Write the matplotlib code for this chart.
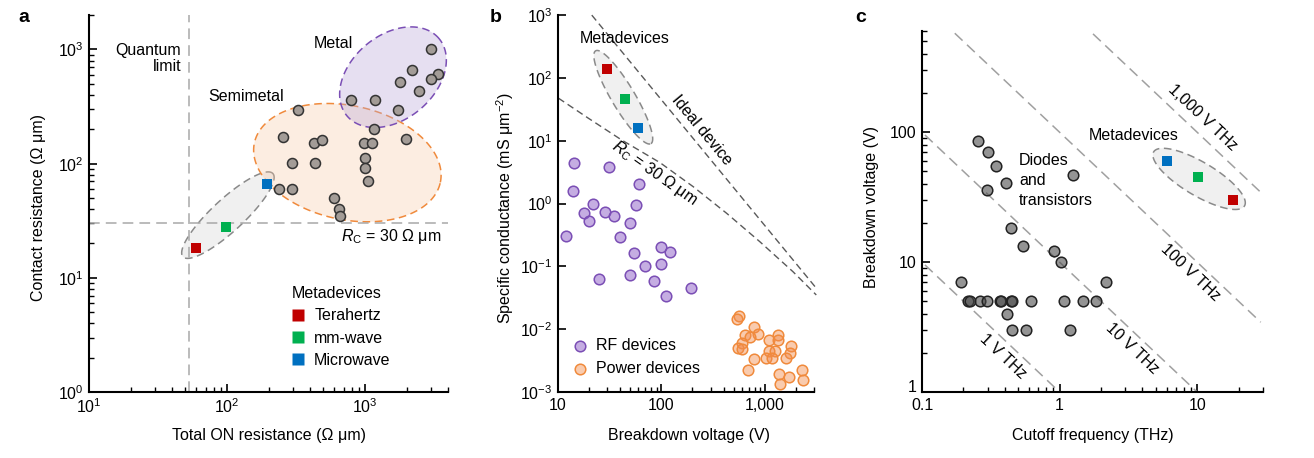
import numpy as np
import matplotlib
matplotlib.use("Agg")
import matplotlib.pyplot as plt
import matplotlib.transforms as mtransforms
from matplotlib.lines import Line2D
from matplotlib.ticker import NullLocator, NullFormatter

plt.rcParams['font.family'] = ['Liberation Sans', 'DejaVu Sans']
plt.rcParams['mathtext.fontset'] = 'custom'
plt.rcParams['mathtext.rm'] = 'Liberation Sans'
plt.rcParams['mathtext.it'] = 'Liberation Sans:italic'
plt.rcParams['mathtext.bf'] = 'Liberation Sans:bold'
FS = 11.5
plt.rcParams['font.size'] = FS

# ---------------- data ----------------
# panel a : total ON resistance vs contact resistance (Ohm um)
metal_ron = [2990, 2190, 3380, 2990, 1782, 2478, 796, 1188, 1734]
metal_rc = [1000, 655, 605, 553, 524, 437, 362, 362, 294]
semi_ron = [325, 1169, 256, 1982, 425, 485, 988, 1117, 297, 434, 995, 995,
            1045, 238, 297, 593, 648, 662]
semi_rc = [294, 201, 171, 166, 151, 160, 151, 151, 101, 101, 111, 91,
           70, 60, 60, 50, 40, 35]
meta_names = ['Terahertz', 'mm-wave', 'Microwave']
meta_colors = ['#c00000', '#00b050', '#0070c0']
meta_ron = [59.6, 98.4, 196]
meta_rc = [18.1, 28, 66]
quantum_limit = 53
rc_limit = 30

# panel b : breakdown voltage (V) vs specific conductance (mS um^-2)
rf_v = [14.3, 30.9, 14.1, 60.1, 21.9, 56.8, 17.9, 28.6, 19.9, 35, 50, 11.9,
        40, 98.9, 120, 54.7, 69.8, 99, 24.9, 50, 84, 193, 110]
rf_g = [4.37, 3.87, 1.58, 2.05, 1.0, 0.96, 0.70, 0.73, 0.53, 0.63, 0.49, 0.30,
        0.29, 0.205, 0.169, 0.161, 0.103, 0.111, 0.063, 0.072, 0.058, 0.046, 0.034]
pw_v = [565, 545, 789, 869, 646, 728, 1355, 1101, 1355, 600, 557, 608, 1783,
        1101, 1260, 1744, 1023, 1170, 789, 1618, 695, 2275, 1374, 1718, 2345, 1395]
pw_g = [0.0161, 0.0144, 0.0109, 0.0085, 0.0080, 0.00755, 0.0080, 0.00668,
        0.00668, 0.00606, 0.0051, 0.00486, 0.00536, 0.00452, 0.00452, 0.0042,
        0.00353, 0.00353, 0.00336, 0.00353, 0.00228, 0.00228, 0.00196, 0.00174,
        0.00158, 0.00136]
meta_v = [30, 44.8, 59.7]
meta_g = [138, 46.4, 16.0]
ideal_v = [21.2, 3155]
ideal_g = [1000, 0.045]
rcline_v = [10.07, 19.6, 41.2, 96.9, 203, 427, 895, 1875, 3155]
rcline_g = [47.7, 22.9, 10.3, 4.49, 1.86, 0.703, 0.248, 0.0825, 0.0351]

# panel c : cutoff frequency (THz) vs breakdown voltage (V)
dt_f = [0.254, 0.301, 0.344, 0.411, 0.297, 1.26, 0.443, 0.541, 0.904, 1.016,
        0.191, 2.19, 0.217, 0.224, 0.264, 0.296, 0.366, 0.378, 0.443, 0.452,
        0.622, 1.077, 1.486, 1.84, 0.418, 0.452, 0.569, 1.20]
dt_v = [85.8, 70.2, 55.4, 40.5, 36.2, 46.7, 18.2, 13.2, 12.2, 10.1,
        7.0, 7.0, 5.0, 5.0, 5.0, 5.0, 5.0, 5.0, 5.0, 5.0,
        5.0, 5.0, 5.0, 5.0, 4.0, 3.0, 3.0, 3.0]
meta_f = [18.2, 10.1, 6.05]
meta_vb = [30.2, 45.6, 60.2]
jfom_values = [1, 10, 100, 1000]
jfom_labels = ['1 V THz', '10 V THz', '100 V THz', '1,000 V THz']
jfom_fmin = [0.105, 0.105, 0.173, 1.75]
jfom_fmax = [1.0, 10.0, 29, 29]

# ---------------- helpers ----------------
DASH = (0, (5, 3))


def style_axes(ax):
    for s in ['top', 'right']:
        ax.spines[s].set_visible(False)
    for s in ['left', 'bottom']:
        ax.spines[s].set_linewidth(1.5)
    ax.tick_params(which='major', direction='in', length=6, width=1.2, labelsize=FS, pad=4)
    ax.tick_params(which='minor', direction='in', length=3.5, width=1.0)
    ax.xaxis.set_minor_formatter(NullFormatter())
    ax.yaxis.set_minor_formatter(NullFormatter())


def draw_ellipse(ax, end1, end2, half_minor, face, edge, zorder=1):
    # ellipse defined in screen pixels from the two ends of its long axis
    p = ax.transData.transform([end1, end2])
    c = p.mean(axis=0)
    d = (p[1] - p[0]) / 2
    u = d / np.hypot(*d)
    v = np.array([-u[1], u[0]]) * half_minor
    t = np.linspace(0, 2 * np.pi, 300)
    pts = c + np.outer(np.cos(t), d) + np.outer(np.sin(t), v)
    xy = ax.transData.inverted().transform(pts)
    ax.fill(xy[:, 0], xy[:, 1], facecolor=face, edgecolor=edge, ls=DASH,
            lw=1.1, zorder=zorder)


fig = plt.figure(figsize=(13.14, 4.58), dpi=100)

# ================= panel a =================
ax = fig.add_axes([0.0677, 0.144, 0.2733, 0.823])
ax.set_xscale('log')
ax.set_yscale('log')
ax.set_xlim(10, 4000)
ax.set_ylim(1, 2000)
style_axes(ax)
ax.set_xticks([10, 100, 1000], ['$10^{1}$', '$10^{2}$', '$10^{3}$'])
ax.set_yticks([1, 10, 100, 1000], ['$10^{0}$', '$10^{1}$', '$10^{2}$', '$10^{3}$'])

draw_ellipse(ax, (48, 15.3), (215, 82), 16, '#f0f0f0', '#8a8a8a')
draw_ellipse(ax, (158, 152), (3516, 68.6), 57, (0.97, 0.77, 0.62, 0.3), '#f08a3c')
draw_ellipse(ax, (741, 262), (3436, 1248), 42, (0.72, 0.65, 0.85, 0.35), '#7b4fb5')

ax.axvline(quantum_limit, color='#a8a8a8', lw=1.1, ls=(0, (7, 4)), zorder=2)
ax.axhline(rc_limit, color='#a8a8a8', lw=1.1, ls=(0, (7, 4)), zorder=2)

ax.scatter(metal_ron + semi_ron, metal_rc + semi_rc, s=52, facecolor='#a39c97',
           edgecolor='#333333', linewidth=1.1, zorder=3)
for x, y, c in zip(meta_ron, meta_rc, meta_colors):
    ax.scatter(x, y, s=62, marker='s', color=c, linewidth=0, zorder=4)

ax.text(46.7, 1137, 'Quantum\nlimit', ha='right', va='top', multialignment='right',
        linespacing=1.05)
ax.text(586, 1137, 'Metal', ha='center', va='center')
ax.text(138, 387, 'Semimetal', ha='center', va='center')
ax.text(3570, 22.9, r'$R_{\mathrm{C}}$ = 30 Ω μm', ha='right', va='center')

handles = [Line2D([], [], marker='s', ls='none', markersize=8, mfc=c, mec='none')
           for c in meta_colors]
ax.legend(handles, meta_names, title='Metadevices', loc='upper left',
          bbox_to_anchor=(0.565, 0.281), frameon=False, borderpad=0,
          borderaxespad=0, handlelength=0.8, handletextpad=0.6,
          labelspacing=0.45, alignment='left', fontsize=FS, title_fontsize=FS)

ax.set_xlabel('Total ON resistance (Ω μm)')
ax.set_ylabel('Contact resistance (Ω μm)')
ax.xaxis.set_label_coords(0.5, -0.095)
ax.yaxis.set_label_coords(-0.12, 0.49)

# ================= panel b =================
ax = fig.add_axes([0.4247, 0.144, 0.1948, 0.823])
ax.set_xscale('log')
ax.set_yscale('log')
ax.set_xlim(10, 3000)
ax.set_ylim(1e-3, 1e3)
style_axes(ax)
ax.yaxis.set_minor_locator(NullLocator())
ax.set_xticks([10, 100, 1000], ['10', '100', '1,000'])
ax.set_yticks([1e-3, 1e-2, 1e-1, 1, 10, 100, 1000],
              ['$10^{-3}$', '$10^{-2}$', '$10^{-1}$', '$10^{0}$', '$10^{1}$',
               '$10^{2}$', '$10^{3}$'])

ax.plot(ideal_v, ideal_g, color='#5a5a5a', lw=1.0, ls=DASH, zorder=2, clip_on=False)
ax.plot(rcline_v, rcline_g, color='#5a5a5a', lw=1.0, ls=DASH, zorder=2, clip_on=False)
draw_ellipse(ax, (23.1, 270), (79.2, 9.0), 11.7, '#f0f0f0', '#8a8a8a')

rf = ax.scatter(rf_v, rf_g, s=58, facecolor=(0.55, 0.36, 0.78, 0.5),
                edgecolor='#7b4fb5', linewidth=1.1, zorder=3)
pw = ax.scatter(pw_v, pw_g, s=58, facecolor=(0.95, 0.55, 0.3, 0.45),
                edgecolor='#f08a3c', linewidth=1.1, zorder=3)
for x, y, c in zip(meta_v, meta_g, meta_colors):
    ax.scatter(x, y, s=62, marker='s', color=c, linewidth=0, zorder=4)

ax.text(44.4, 420, 'Metadevices', ha='center', va='center')
ax.text(248, 14.9, 'Ideal device', ha='center', va='center', rotation=-50.5,
        rotation_mode='anchor')
ax.text(86.5, 3.03, r'$R_{\mathrm{C}}$ = 30 Ω μm', ha='center', va='center',
        rotation=-35, rotation_mode='anchor')

ax.legend([rf, pw], ['RF devices', 'Power devices'], loc='lower left',
          bbox_to_anchor=(0.06, 0.042), frameon=False, borderpad=0, borderaxespad=0,
          handlelength=0.8, handletextpad=0.6, labelspacing=0.5, fontsize=FS)

ax.set_xlabel('Breakdown voltage (V)')
ax.set_ylabel('Specific conductance (mS μm$^{-2}$)')
ax.xaxis.set_label_coords(0.51, -0.095)
ax.yaxis.set_label_coords(-0.164, 0.488)

# ================= panel c =================
ax = fig.add_axes([0.7017, 0.144, 0.2593, 0.788])
ax.set_xscale('log')
ax.set_yscale('log')
ax.set_xlim(0.1, 30)
ax.set_ylim(1, 600)
style_axes(ax)
ax.set_xticks([0.1, 1, 10], ['0.1', '1', '10'])
ax.set_yticks([1, 10, 100], ['1', '10', '100'])
# the reference lifts the lowest y label a little so it clears "0.1"
lift = mtransforms.ScaledTranslation(0, 4 / 72, fig.dpi_scale_trans)
first = ax.yaxis.get_major_ticks()[0].label1
first.set_transform(first.get_transform() + lift)

for val, f0, f1 in zip(jfom_values, jfom_fmin, jfom_fmax):
    ax.plot([f0, f1], [val / f0, val / f1], color='#a0a0a0', lw=1.1,
            ls=(0, (7, 4)), zorder=2)
draw_ellipse(ax, (4.83, 70.6), (22.1, 27.1), 16.7, '#f0f0f0', '#8a8a8a')

ax.scatter(dt_f, dt_v, s=58, facecolor=(0.28, 0.28, 0.28, 0.58),
           edgecolor='#222222', linewidth=1.1, zorder=3)
for x, y, c in zip(meta_f, meta_vb, meta_colors):
    ax.scatter(x, y, s=62, marker='s', color=c, linewidth=0, zorder=4)

label_pos = [(0.385, 1.88), (3.37, 2.15), (8.93, 8.38), (10.9, 130)]
for (x, y), lab in zip(label_pos, jfom_labels):
    ax.text(x, y, lab, ha='center', va='center', rotation=-43.4,
            rotation_mode='anchor')
ax.text(3.46, 94.2, 'Metadevices', ha='center', va='center')
ax.text(0.508, 42.5, 'Diodes\nand\ntransistors', ha='left', va='center',
        linespacing=1.4)

ax.set_xlabel('Cutoff frequency (THz)')
ax.set_ylabel('Breakdown voltage (V)')
ax.xaxis.set_label_coords(0.502, -0.1)
ax.yaxis.set_label_coords(-0.126, 0.513)

# panel letters
for x, lab in zip([0.0137, 0.3729, 0.6507], ['a', 'b', 'c']):
    fig.text(x, 0.952, lab, fontsize=14, fontweight='bold', va='baseline')

fig.savefig('out.png', dpi=100)
